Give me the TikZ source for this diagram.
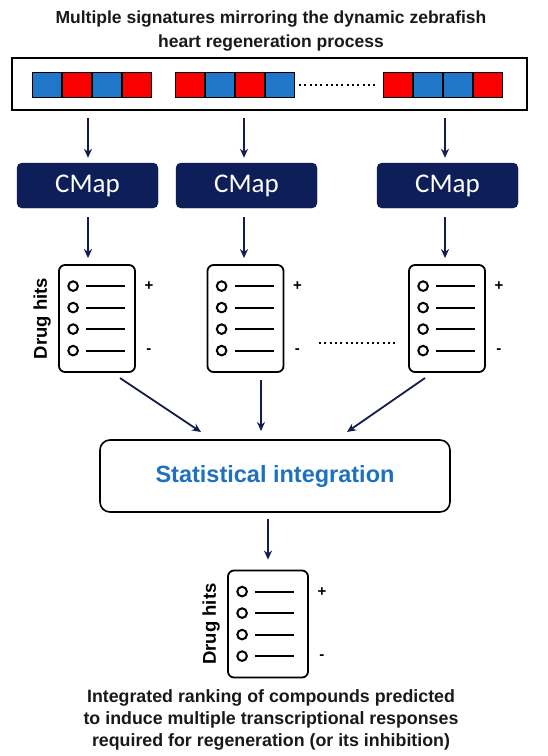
\documentclass[tikz,border=0pt]{standalone}
\usepackage{fontspec}
\setmainfont{Liberation Sans}
\newfontfamily\cmapfont{Carlito}
\usetikzlibrary{arrows.meta,calc}
\definecolor{navy}{RGB}{14,30,88}
\definecolor{arrnavy}{RGB}{18,28,78}
\definecolor{sigblue}{RGB}{32,118,200}
\definecolor{sigred}{RGB}{250,0,0}
\definecolor{statblue}{RGB}{30,112,192}
\tikzset{
  cell/.style={draw=black,line width=1pt,minimum width=29pt,minimum height=25pt,inner sep=0pt,anchor=west},
  bcell/.style={cell,fill=sigblue},
  rcell/.style={cell,fill=sigred},
  cmapbox/.style={fill=navy,draw=navy!70!black,rounded corners=5pt,minimum width=141pt,minimum height=45pt,text=white,font=\cmapfont\fontsize{27}{30}\selectfont,inner sep=0pt},
  listbox/.style={draw=black,line width=1.8pt,rounded corners=6pt,minimum width=76pt,minimum height=107pt,inner sep=0pt},
  listmark/.style={line width=2pt},
  arr/.style={draw=arrnavy,line width=1.8pt,-{Stealth[length=9pt,width=8pt]}},
  dotline/.style={line width=2.4pt,dash pattern=on 2pt off 3.3pt},
  signlabel/.style={font=\bfseries\fontsize{15}{18}\selectfont},
  hitlabel/.style={font=\bfseries\fontsize{18.5}{20}\selectfont,rotate=90},
  captext/.style={font=\bfseries\fontsize{17.8}{22}\selectfont,align=center,text=black!90},
}
\newcommand\mydruglist[4]{% name, cx, cy, width
  \node[listbox,minimum width=#4pt] (#1) at (#2,#3) {};
  \foreach \k/\dy in {1/22,2/43.5,3/65,4/86.5}{
    \draw[listmark] ($(#1.north west)+(15,\dy)$) circle (4.8pt);
    \draw[listmark] ($(#1.north west)+(28,\dy)$) -- ($(#1.north west)+(67,\dy)$);
  }
  \node[signlabel] (#1p) at ($(#1.north east)+(13,22)$) {+};
  \node[signlabel] (#1m) at ($(#1.north east)+(13,87)$) {-};
}
\begin{document}
\begin{tikzpicture}[x=1pt,y=-1pt]
\useasboundingbox (0,0) rectangle (548,756);
% title
\node[captext,font=\bfseries\fontsize{17.5}{24}\selectfont] (title) at (271,31) {Multiple signatures mirroring the dynamic zebrafish\\heart regeneration process};
% frame
\node[draw=black,line width=1.6pt,minimum width=515pt,minimum height=52pt,inner sep=0pt] (frame) at (269.5,84) {};
% bar 1
\node[bcell] (a1) at (32,84.5) {};
\node[rcell] (a2) at (a1.east) {};
\node[bcell] (a3) at (a2.east) {};
\node[rcell] (a4) at (a3.east) {};
% bar 2
\node[rcell] (b1) at (175,84.5) {};
\node[bcell] (b2) at (b1.east) {};
\node[rcell] (b3) at (b2.east) {};
\node[bcell] (b4) at (b3.east) {};
% bar 3
\node[rcell] (d1) at (383,84.5) {};
\node[bcell] (d2) at (d1.east) {};
\node[bcell] (d3) at (d2.east) {};
\node[rcell] (d4) at (d3.east) {};
\coordinate (dotsA) at (299,85);
\coordinate (dotsB) at (376,85);
\draw[dotline] (dotsA) -- (dotsB);
% CMap boxes
\node[cmapbox] (c1) at (87.5,185.5) {CMap};
\node[cmapbox] (c2) at (246.5,185.5) {CMap};
\node[cmapbox] (c3) at (447.5,185.5) {CMap};
% top arrows
\coordinate (t1) at (88,118);
\coordinate (t2) at (244,118);
\coordinate (t3) at (445,118);
\draw[arr,shorten >=5pt] (t1) -- (t1 |- c1.north);
\draw[arr,shorten >=5pt] (t2) -- (t2 |- c2.north);
\draw[arr,shorten >=5pt] (t3) -- (t3 |- c3.north);
% lists
\mydruglist{l1}{97}{318.5}{76}
\node[hitlabel] (l1h) at ($(l1.west)+(-16,0)$) {Drug hits};
\mydruglist{l2}{245.5}{318.5}{76}
\mydruglist{l3}{447}{318.5}{76}
\draw[dotline] (319,343) -- (396,343);
% CMap -> list arrows
\draw[arr,shorten <=9pt,shorten >=6pt] (t1 |- c1.south) -- (t1 |- l1.north);
\draw[arr,shorten <=9pt,shorten >=6pt] (t2 |- c2.south) -- (t2 |- l2.north);
\draw[arr,shorten <=9pt,shorten >=6pt] (t3 |- c3.south) -- (t3 |- l3.north);
% statistical integration
\node[draw=black,line width=1.6pt,rounded corners=10pt,minimum width=350pt,minimum height=72pt,text=statblue,font=\bfseries\fontsize{23.5}{26}\selectfont] (stat) at (275,476) {Statistical integration};
\coordinate (s1) at (120,378);
\coordinate (s2) at (261,380);
\coordinate (s3) at (425,378);
\coordinate (e1) at (201,432);
\coordinate (e2) at (261,431);
\coordinate (e3) at (347,432);
\draw[arr] (s1) -- (e1);
\draw[arr] (s2) -- (e2);
\draw[arr] (s3) -- (e3);
% final list
\mydruglist{lf}{268}{624}{80}
\node[hitlabel] (lfh) at ($(lf.west)+(-16,0)$) {Drug hits};
\draw[arr,shorten <=6pt,shorten >=10pt] (stat.south -| lf.north) -- (lf.north);
% caption
\node[captext] (cap) at (271,720) {Integrated ranking of compounds predicted\\to induce multiple transcriptional responses\\required for regeneration (or its inhibition)};
\end{tikzpicture}
\end{document}
